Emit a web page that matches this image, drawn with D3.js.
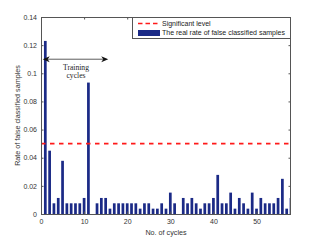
<!DOCTYPE html>
<html>
<head>
<meta charset="utf-8">
<script src="https://cdn.jsdelivr.net/npm/d3@7"></script>
<style>
body { margin: 0; background: #fff; }
text { font-family: 'Liberation Sans', Arial, sans-serif; }
</style>
</head>
<body>
<script>
// bar data
const cycles = d3.range(1, 59)
const rates = [
	0.123, 0.045, 0.0076, 0.0114, 0.0378, 0.0076, 0.0076, 0.0076, 0.0076, 0.0114,
	0.0934, 0, 0.0076, 0.0114, 0.0114, 0.0038, 0.0076, 0.0076, 0.0076, 0.0076,
	0.0076, 0.0076, 0.0038, 0.0076, 0.0076, 0.0038, 0.0038, 0.0076, 0.0038, 0.0152,
	0.0076, 0, 0.0114, 0.0076, 0.0114, 0.0076, 0.0038, 0.0076, 0.0076, 0.0114,
	0.0278, 0.0076, 0.0076, 0.0152, 0.0038, 0.0114, 0.0076, 0.0038, 0.0152, 0.0038,
	0.0114, 0.0076, 0.0076, 0.0076, 0.0114, 0.025, 0.0038, 0.0114
]
const significant = 0.05
const xTicks = [0, 10, 20, 30, 40, 50]
const yTicks = [0, 0.02, 0.04, 0.06, 0.08, 0.1, 0.12, 0.14]
const legendLabels = ['Significant level', 'The real rate of false classified samples']
const arrowSpan = [0.4, 15.6]
const arrowLevel = 0.11

const svgw = 321
const svgh = 241
const pLeft = 41, pRight = 291, pTop = 17, pBottom = 214

const svg = d3.select('body').append('svg').attr('width', svgw).attr('height', svgh)

const x = d3.scaleLinear().domain([0, 58]).range([pLeft, pRight])
const y = d3.scaleLinear().domain([0, 0.14]).range([pBottom, pTop])
const barW = (x(1) - x(0)) * 0.63

svg.append('clipPath').attr('id', 'plot')
	.append('rect')
	.attr('x', pLeft).attr('y', pTop)
	.attr('width', pRight - pLeft).attr('height', pBottom - pTop)

svg.append('g')
	.attr('clip-path', 'url(#plot)')
	.selectAll('rect')
	.data(rates)
	.enter()
	.append('rect')
	.attr('x', (d, i) => x(cycles[i]) - barW / 2)
	.attr('y', d => y(d))
	.attr('width', barW)
	.attr('height', d => y(0) - y(d))
	.attr('fill', '#1b2a86')

svg.append('line')
	.attr('x1', pLeft).attr('x2', pRight)
	.attr('y1', y(significant)).attr('y2', y(significant))
	.attr('stroke', '#ff1a1a')
	.attr('stroke-width', 1.6)
	.attr('stroke-dasharray', '4.5,4.5')

// axes: matlab style box with inward ticks
const axisColor = '#555'
const xb = d3.axisBottom(x).tickValues(xTicks).tickSizeInner(-2.5).tickSizeOuter(0).tickPadding(5)
const xt = d3.axisTop(x).tickValues(xTicks).tickSizeInner(-2.5).tickSizeOuter(0).tickFormat('')
const yl = d3.axisLeft(y).tickValues(yTicks).tickSizeInner(-2.5).tickSizeOuter(0).tickPadding(4).tickFormat(d => d === 0 ? '0' : d3.format('.2~f')(d))
const yr = d3.axisRight(y).tickValues(yTicks).tickSizeInner(-2.5).tickSizeOuter(0).tickFormat('')

const gx = svg.append('g').attr('transform', `translate(0,${pBottom})`).call(xb)
svg.append('g').attr('transform', `translate(0,${pTop})`).call(xt)
const gy = svg.append('g').attr('transform', `translate(${pLeft},0)`).call(yl)
svg.append('g').attr('transform', `translate(${pRight},0)`).call(yr)

svg.selectAll('.domain').remove()
svg.selectAll('.tick line').attr('stroke', axisColor)
svg.selectAll('.tick text').attr('font-size', 7).attr('fill', '#333')
	.style('font-family', "'Liberation Sans', Arial, sans-serif")

svg.append('rect')
	.attr('x', pLeft + 0.5).attr('y', pTop + 0.5)
	.attr('width', pRight - pLeft - 1).attr('height', pBottom - pTop)
	.attr('fill', 'none')
	.attr('stroke', axisColor)

svg.append('text')
	.attr('x', (pLeft + pRight) / 2).attr('y', 235)
	.attr('text-anchor', 'middle')
	.attr('font-size', 7.2).attr('fill', '#333')
	.text('No. of cycles')

svg.append('text')
	.attr('transform', `translate(20,${(pTop + pBottom) / 2}) rotate(-90)`)
	.attr('text-anchor', 'middle')
	.attr('font-size', 7.2).attr('fill', '#333')
	.text('Rate of false classified samples')

// legend
const lg = svg.append('g')
lg.append('rect')
	.attr('x', 132.5).attr('y', pTop + 0.5)
	.attr('width', pRight - 132.5 - 0.5).attr('height', 21)
	.attr('fill', '#fff')
	.attr('stroke', axisColor)
lg.append('line')
	.attr('x1', 138).attr('x2', 160)
	.attr('y1', 23.5).attr('y2', 23.5)
	.attr('stroke', '#ff1a1a')
	.attr('stroke-width', 1.6)
	.attr('stroke-dasharray', '4.5,3')
lg.append('rect')
	.attr('x', 138).attr('y', 30)
	.attr('width', 22).attr('height', 6)
	.attr('fill', '#1b2a86')
lg.selectAll('text.lab')
	.data(legendLabels)
	.enter()
	.append('text')
	.attr('class', 'lab')
	.attr('x', 162)
	.attr('y', (d, i) => 26 + i * 9.3)
	.attr('font-size', 7).attr('fill', '#222')
	.text(d => d)

// training cycles annotation
const ay = y(arrowLevel)
const ax0 = x(arrowSpan[0]), ax1 = x(arrowSpan[1])
svg.append('line')
	.attr('x1', ax0 + 5).attr('x2', ax1 - 5)
	.attr('y1', ay).attr('y2', ay)
	.attr('stroke', '#333').attr('stroke-width', 0.8)
svg.append('path')
	.attr('d', `M${ax0},${ay} L${ax0 + 7},${ay - 3} L${ax0 + 5},${ay} L${ax0 + 7},${ay + 3} Z`)
	.attr('fill', '#111')
svg.append('path')
	.attr('d', `M${ax1},${ay} L${ax1 - 7},${ay - 3} L${ax1 - 5},${ay} L${ax1 - 7},${ay + 3} Z`)
	.attr('fill', '#111')
svg.selectAll('text.ann')
	.data(['Training', 'cycles'])
	.enter()
	.append('text')
	.attr('class', 'ann')
	.attr('x', 76)
	.attr('y', (d, i) => 69.5 + i * 8.3)
	.attr('text-anchor', 'middle')
	.attr('font-size', 7.6).attr('fill', '#222')
	.style('font-family', "'Liberation Serif', 'Times New Roman', serif")
	.text(d => d)
</script>
</body>
</html>
